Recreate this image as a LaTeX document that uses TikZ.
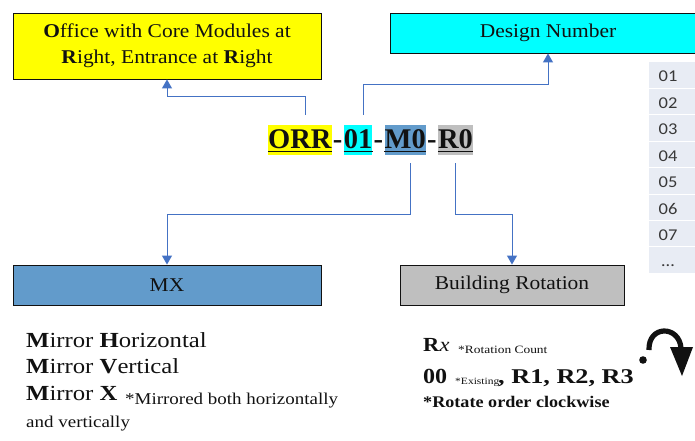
\documentclass[tikz,border=0pt]{standalone}
\usepackage{fontspec}
\usetikzlibrary{arrows.meta}
\setmainfont{Liberation Serif}
\newfontfamily\boxfont[FakeStretch=1.1]{Liberation Serif}
\newfontfamily\widefont[FakeStretch=1.15]{Liberation Serif}
\newfontfamily\notefont[FakeStretch=1.2]{Liberation Serif}
\newfontfamily\rotfont[FakeStretch=1.12]{Liberation Serif}
\newfontfamily\listfont[FakeStretch=1.25]{Liberation Serif}
\newfontfamily\cellfont[FakeStretch=1.12]{Carlito}

\definecolor{hlyellow}{HTML}{FFFF00}
\definecolor{hlcyan}{HTML}{00FFFF}
\definecolor{hlblue}{HTML}{629BCB}
\definecolor{hlgray}{HTML}{BFBFBF}
\definecolor{connblue}{HTML}{4472C4}
\definecolor{cellfill}{HTML}{E8ECF4}
\definecolor{celltextc}{HTML}{383838}
\definecolor{ink}{HTML}{111111}

\tikzset{
  labelbox/.style={draw=ink, line width=0.9pt, inner sep=0pt, align=center,
    text=ink, font=\boxfont\fontsize{19.5}{26}\selectfont},
  codepart/.style={inner xsep=0pt, inner ysep=0pt, text height=23pt, text depth=7pt,
    text=ink, font=\bfseries\fontsize{28.5}{30}\selectfont},
  codedash/.style={codepart, inner xsep=1pt},
  codeline/.style={line width=1.3pt, draw=ink},
  conn/.style={draw=connblue, line width=1pt, -{Triangle[width=10pt,length=9pt]}},
  cell/.style={fill=cellfill, draw=white, line width=1pt, minimum width=54pt,
    minimum height=26.4pt, inner sep=0pt},
  celltext/.style={text=celltextc, inner sep=0pt, anchor=base,
    font=\cellfont\fontsize{16.5}{17}\selectfont},
  body/.style={inner sep=0pt, text=ink, anchor=base west},
}

\begin{document}
\begin{tikzpicture}[x=1pt, y=-1pt]
\useasboundingbox (0,0) rectangle (695,441);

% label boxes
\node[labelbox, fill=hlyellow, minimum width=308pt, minimum height=66pt] (office) at (167,46)
  {\textbf{O}ffice with Core Modules at\\\textbf{R}ight, Entrance at \textbf{R}ight};
\node[labelbox, fill=hlcyan, minimum width=316pt, minimum height=40pt] (design) at (548,33)
  {Design Number};
\node[labelbox, fill=hlblue, minimum width=308pt, minimum height=40pt] (mx) at (167,285) {MX};
\node[labelbox, fill=hlgray, minimum width=224pt, minimum height=40pt] (rot) at (512,285)
  {Building Rotation};

% the design code
\node[codepart, fill=hlyellow, anchor=base west] (orr) at (268,148) {ORR};
\node[codedash, anchor=base west] (d1) at (orr.base east) {-};
\node[codepart, fill=hlcyan, anchor=base west] (n01) at (d1.base east) {01};
\node[codedash, anchor=base west] (d2) at (n01.base east) {-};
\node[codepart, fill=hlblue, anchor=base west] (m0) at (d2.base east) {M0};
\node[codedash, anchor=base west] (d3) at (m0.base east) {-};
\node[codepart, fill=hlgray, anchor=base west] (r0) at (d3.base east) {R0};
\foreach \p in {orr,n01,m0,r0}
  \draw[codeline] ([yshift=-3.5pt]\p.base west) -- ([yshift=-3.5pt]\p.base east);

% connectors
\draw[conn] ([xshift=-26pt,yshift=10pt]orr.north east) -- ++(0,-18) -| (office.south);
\draw[conn] ([xshift=5.5pt,yshift=10pt]n01.north) -- ++(0,-30) -| (design.south);
\draw[conn] ([xshift=5.5pt,yshift=-8pt]m0.south) -- ++(0,51) -| (mx.north);
\draw[conn] ([yshift=-8pt]r0.south) -- ++(0,51) -| (rot.north);

% design number column
\foreach \t [count=\i from 0] in {01,02,03,04,05,06,07,\ldots} {
  \node[cell] (c\i) at (675,{62+26.4*\i+13.2}) {};
  \node[celltext] (t\i) at (668,{62+26.4*\i+20}) {\t};
}

% mirror notes
\begin{scope}[font=\widefont\fontsize{21.5}{24}\selectfont]
\node[body] (mh) at (26,347) {\textbf{M}irror \textbf{H}orizontal};
\node[body] (mv) at (26,373) {\textbf{M}irror \textbf{V}ertical};
\node[body] (mxx) at (26,400) {\textbf{M}irror \textbf{X}};
\end{scope}
\node[body, font=\widefont\fontsize{16.5}{18}\selectfont] (mnote) at (125,404) {*Mirrored both horizontally};
\node[body, font=\widefont\fontsize{16.5}{18}\selectfont] (mnote2) at (26,427) {and vertically};

% rotation notes
\node[body, font=\rotfont\fontsize{20}{22}\selectfont] (rx) at (423,351) {\textbf{R}\textit{x}};
\node[body, font=\notefont\fontsize{11.2}{12}\selectfont] (rxnote) at (458,353) {*Rotation Count};
\node[body, font=\rotfont\fontsize{21.5}{24}\selectfont] (zero) at (423,383) {\textbf{00}};
\node[body, font=\notefont\fontsize{9.6}{10}\selectfont] (exnote) at (455,384) {*Existing};
\node[body, font=\listfont\fontsize{21}{24}\selectfont] (rlist) at (498,383) {\textbf{, R1, R2, R3}};
\node[body, font=\rotfont\fontsize{16.2}{19}\selectfont] (rotnote) at (423,407) {\textbf{*Rotate order clockwise}};

% clockwise turn symbol
\fill[ink] (643,360) circle[radius=3.8];
\draw[ink, line width=5.2pt] (649,350) .. controls (648,325) and (679,325) .. (681,348);
\fill[ink] (670,347) -- (693,347) -- (682,376) -- cycle;
\end{tikzpicture}
\end{document}
